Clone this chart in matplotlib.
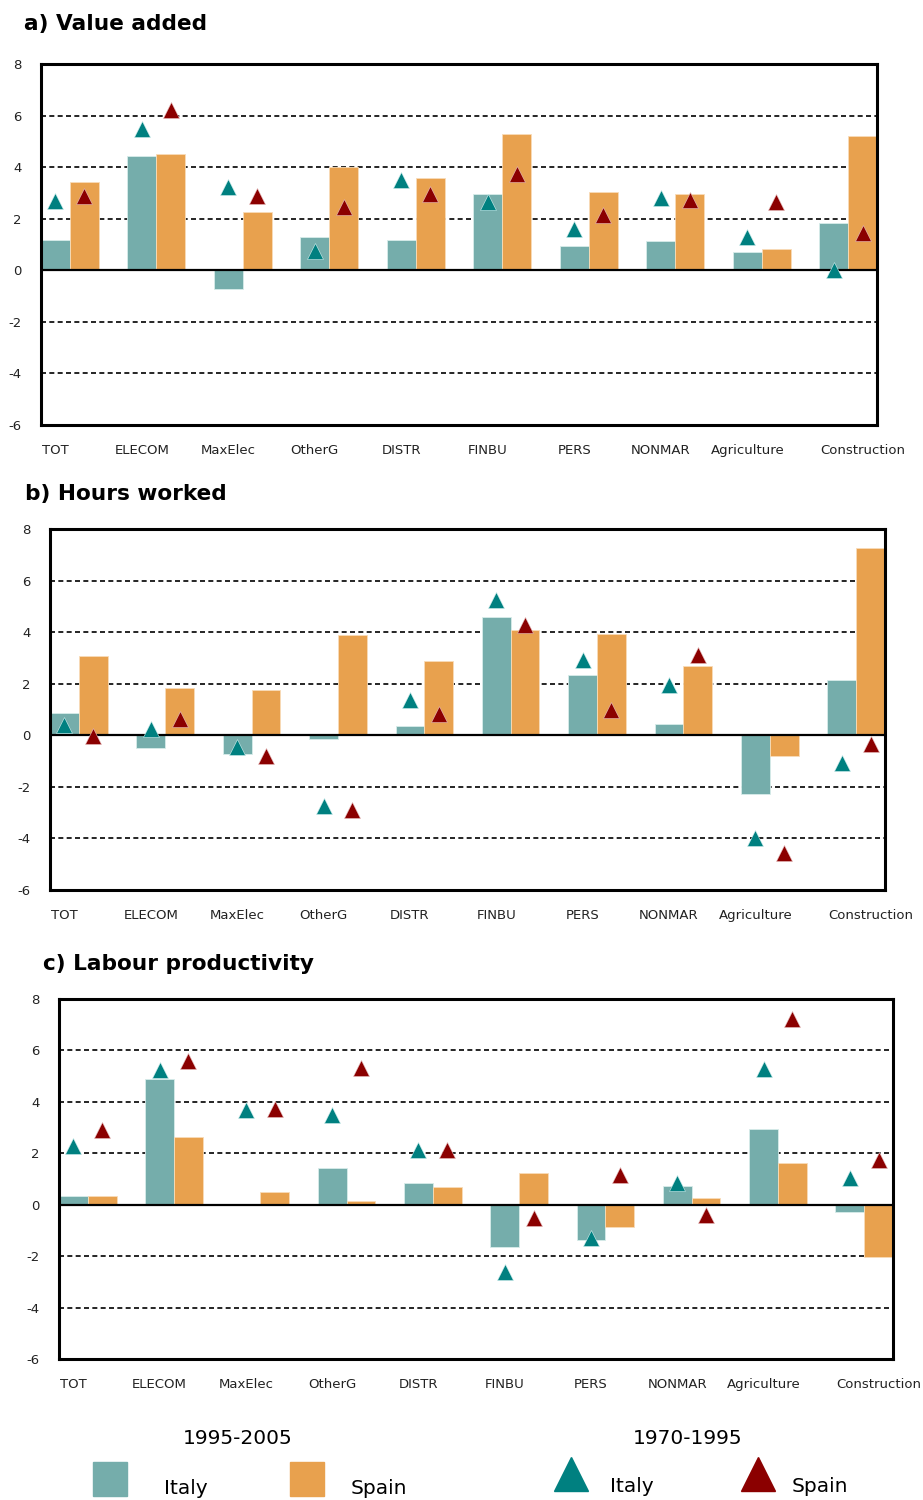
import numpy as np
import matplotlib
matplotlib.use("Agg")
import matplotlib.pyplot as plt
from matplotlib.patches import Rectangle
from matplotlib.lines import Line2D

categories = ["TOT", "ELECOM", "MaxElec", "OtherG", "DISTR", "FINBU", "PERS",
              "NONMAR", "Agriculture", "Construction"]

# a) Value added
va_italy_9505 = [1.19, 4.42, -0.71, 1.30, 1.19, 2.94, 0.94, 1.14, 0.70, 1.84]
va_spain_9505 = [3.44, 4.51, 2.25, 4.00, 3.58, 5.30, 3.05, 2.96, 0.83, 5.22]
va_italy_7095 = [2.70, 5.49, 3.23, 0.75, 3.51, 2.64, 1.60, 2.79, 1.31, 0.00]
va_spain_7095 = [2.90, 6.21, 2.90, 2.44, 2.95, 3.73, 2.16, 2.73, 2.66, 1.44]

# b) Hours worked
hw_italy_9505 = [0.87, -0.48, -0.72, -0.13, 0.36, 4.59, 2.34, 0.43, -2.28, 2.16]
hw_spain_9505 = [3.09, 1.85, 1.74, 3.88, 2.89, 4.07, 3.94, 2.69, -0.79, 7.26]
hw_italy_7095 = [0.39, 0.26, -0.46, -2.76, 1.37, 5.24, 2.91, 1.95, -3.97, -1.07]
hw_spain_7095 = [-0.03, 0.62, -0.81, -2.89, 0.82, 4.27, 0.99, 3.11, -4.58, -0.33]

# c) Labour productivity
lp_italy_9505 = [0.35, 4.88, -0.03, 1.42, 0.86, -1.63, -1.37, 0.74, 2.95, -0.29]
lp_spain_9505 = [0.35, 2.65, 0.49, 0.13, 0.69, 1.24, -0.87, 0.26, 1.63, -2.02]
lp_italy_7095 = [2.30, 5.23, 3.69, 3.48, 2.11, -2.61, -1.31, 0.85, 5.27, 1.04]
lp_spain_7095 = [2.91, 5.59, 3.71, 5.31, 2.11, -0.53, 1.17, -0.39, 7.22, 1.74]

y_ticks = [-6, -4, -2, 0, 2, 4, 6, 8]

C_ITALY_BAR = "#75ADAB"
C_SPAIN_BAR = "#E8A14E"
C_ITALY_TRI = "#008080"
C_SPAIN_TRI = "#8B0000"

W, H = 923, 1500
fig = plt.figure(figsize=(W / 100, H / 100), dpi=100)
plt.rcParams['font.family'] = ['DejaVu Sans']


def fx(px):
    return px / W


def fy(py):
    return 1 - py / H


panels = [
    ("a) Value added", (41, 64, 877, 425), (24, 24),
     va_italy_9505, va_spain_9505, va_italy_7095, va_spain_7095),
    ("b) Hours worked", (50, 529, 885, 890), (25, 494),
     hw_italy_9505, hw_spain_9505, hw_italy_7095, hw_spain_7095),
    ("c) Labour productivity", (59, 999, 893, 1359), (43, 964),
     lp_italy_9505, lp_spain_9505, lp_italy_7095, lp_spain_7095),
]

x = np.arange(len(categories))
bw = 1 / 3
label_shift = np.array([-1 / 6] * 9 + [1 / 6])

for title, (l, t, r, b), (tx, ty), it_b, sp_b, it_t, sp_t in panels:
    ax = fig.add_axes([fx(l), fy(b), fx(r) - fx(l), fy(t) - fy(b)])
    ax.set_xlim(-1 / 3, len(categories) - 1 + 1 / 3)
    ax.set_ylim(-6, 8)
    for yv in y_ticks:
        if yv == 0:
            continue
        ax.axhline(yv, color="black", lw=1.2, ls=(0, (3, 2)), zorder=1)
    ax.bar(x - bw / 2, it_b, width=bw, color=C_ITALY_BAR,
           edgecolor="#d8ecea", linewidth=0.6, zorder=2)
    ax.bar(x + bw / 2, sp_b, width=bw, color=C_SPAIN_BAR,
           edgecolor="#f8dcb8", linewidth=0.6, zorder=2)
    ax.axhline(0, color="black", lw=1.6, zorder=3)
    ax.plot(x - bw / 2, it_t, ls="none", marker="^", ms=11.5,
            color=C_ITALY_TRI, mec="#d0eeee", mew=0.4, zorder=4, clip_on=False)
    ax.plot(x + bw / 2, sp_t, ls="none", marker="^", ms=11.5,
            color=C_SPAIN_TRI, mec="#e8c0c0", mew=0.4, zorder=4, clip_on=False)
    ax.set_yticks(y_ticks)
    ax.set_yticklabels([str(v) for v in y_ticks], fontsize=9.5)
    ax.set_xticks(x + label_shift)
    ax.set_xticklabels(categories, fontsize=9.5)
    ax.tick_params(axis="both", length=0, colors="#222222")
    ax.tick_params(axis="y", pad=14)
    ax.tick_params(axis="x", pad=14)
    for s in ax.spines.values():
        s.set_linewidth(2.2)
        s.set_color("black")
    fig.text(fx(tx), fy(ty), title, fontsize=15.6, fontweight="bold",
             ha="left", va="center")

# legend
leg_font = ['Liberation Sans Narrow', 'DejaVu Sans']
fig.text(fx(238), fy(1438), "1995-2005", fontsize=14.5, ha="center", va="center",
         family=leg_font)
fig.text(fx(688), fy(1438), "1970-1995", fontsize=14.5, ha="center", va="center",
         family=leg_font)
fig.add_artist(Rectangle((fx(93), fy(1496)), fx(34), 34 / H,
                         transform=fig.transFigure, color=C_ITALY_BAR))
fig.add_artist(Rectangle((fx(290), fy(1496)), fx(34), 34 / H,
                         transform=fig.transFigure, color=C_SPAIN_BAR))
fig.text(fx(186), fy(1488), "Italy", fontsize=14.5, ha="center", va="center",
         family=leg_font)
fig.text(fx(379), fy(1488), "Spain", fontsize=14.5, ha="center", va="center",
         family=leg_font)
fig.add_artist(Line2D([fx(571)], [fy(1474)], marker="^", ms=24,
                      color=C_ITALY_TRI, transform=fig.transFigure))
fig.add_artist(Line2D([fx(758)], [fy(1474)], marker="^", ms=24,
                      color=C_SPAIN_TRI, transform=fig.transFigure))
fig.text(fx(632), fy(1486), "Italy", fontsize=14.5, ha="center", va="center",
         family=leg_font)
fig.text(fx(820), fy(1486), "Spain", fontsize=14.5, ha="center", va="center",
         family=leg_font)

fig.savefig("out.png", dpi=100)
